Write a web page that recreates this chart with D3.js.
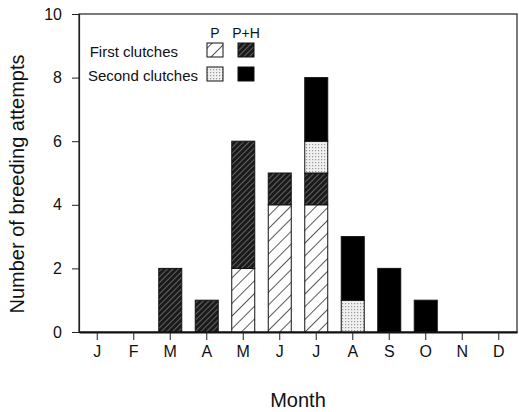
<!DOCTYPE html>
<html><head><meta charset="utf-8">
<script src="https://cdn.jsdelivr.net/npm/d3@7"></script>
<style>
html,body{margin:0;padding:0;background:#fff;}
svg{display:block;font-family:"Liberation Sans",Arial,Helvetica,sans-serif;}
</style>
</head><body>
<svg id="chart" width="519" height="412"></svg>
<script>
const months = ["J","F","M","A","M","J","J","A","S","O","N","D"];
const pFirst   = [0,0,0,0,2,4,4,0,0,0,0,0];
const phFirst  = [0,0,2,1,4,1,1,0,0,0,0,0];
const pSecond  = [0,0,0,0,0,0,1,1,0,0,0,0];
const phSecond = [0,0,0,0,0,0,2,2,2,1,0,0];
const yTicks = [0,2,4,6,8,10];
const seriesKeys = ["pFirst","phFirst","pSecond","phSecond"];
const legendRows = ["First clutches","Second clutches"];
const legendCols = ["P","P+H"];

const svg = d3.select("#chart");
const defs = svg.append("defs");

const p1 = defs.append("pattern").attr("id","pat-pFirst").attr("patternUnits","userSpaceOnUse")
  .attr("width",9).attr("height",9).attr("patternTransform","rotate(45)");
p1.append("rect").attr("width",9).attr("height",9).attr("fill","#fff");
p1.append("line").attr("x1",0).attr("y1",0).attr("x2",0).attr("y2",9).attr("stroke","#111").attr("stroke-width",1.4);

const p2 = defs.append("pattern").attr("id","pat-phFirst").attr("patternUnits","userSpaceOnUse")
  .attr("width",4).attr("height",4).attr("patternTransform","rotate(45)");
p2.append("rect").attr("width",4).attr("height",4).attr("fill","#1a1a1a");
p2.append("line").attr("x1",0).attr("y1",0).attr("x2",0).attr("y2",4).attr("stroke","#bbb").attr("stroke-width",0.9);

const p3 = defs.append("pattern").attr("id","pat-pSecond").attr("patternUnits","userSpaceOnUse")
  .attr("width",3).attr("height",3);
p3.append("rect").attr("width",3).attr("height",3).attr("fill","#f0f0f0");
p3.append("rect").attr("width",1.2).attr("height",1.2).attr("fill","#999");

const fills = {
  pFirst: "url(#pat-pFirst)",
  phFirst: "url(#pat-phFirst)",
  pSecond: "url(#pat-pSecond)",
  phSecond: "#000"
};

const m = {left:79, right:517, top:14, bottom:332};
const x = d3.scaleBand().domain(d3.range(months.length)).range([m.left,m.right]).paddingInner(0.37).paddingOuter(0.185);
const y = d3.scaleLinear().domain([0,10]).range([m.bottom,m.top]);

const table = months.map((mo,i)=>({i, pFirst:pFirst[i], phFirst:phFirst[i], pSecond:pSecond[i], phSecond:phSecond[i]}));
const stack = d3.stack().keys(seriesKeys)(table);

svg.append("rect").attr("x",m.left).attr("y",m.top).attr("width",m.right-m.left).attr("height",m.bottom-m.top)
  .attr("fill","none").attr("stroke","#222").attr("stroke-width",1.2);

stack.forEach(s=>{
  svg.append("g").selectAll("rect").data(s.filter(d=>d[1]-d[0]>0)).join("rect")
    .attr("x",d=>x(d.data.i)).attr("width",x.bandwidth())
    .attr("y",d=>y(d[1])).attr("height",d=>y(d[0])-y(d[1]))
    .attr("fill",fills[s.key]).attr("stroke","#111").attr("stroke-width",1);
});

const yAxis = d3.axisLeft(y).tickValues(yTicks).tickSize(7).tickPadding(10).tickFormat(d3.format("d"));
const gy = svg.append("g").attr("transform",`translate(${m.left},0)`).call(yAxis);
gy.select(".domain").attr("stroke","#222").attr("stroke-width",1.2);
gy.selectAll(".tick line").attr("stroke","#222");
gy.selectAll("text").attr("font-size",16).attr("fill","#111").attr("font-family","Liberation Sans, Arial, sans-serif");

const xAxis = d3.axisBottom(x).tickFormat(i=>months[i]).tickSize(8).tickPadding(6).tickSizeOuter(0);
const gx = svg.append("g").attr("transform",`translate(0,${m.bottom})`).call(xAxis);
gx.select(".domain").attr("stroke","#111").attr("stroke-width",2.2);
gx.selectAll(".tick line").attr("stroke","#222");
gx.selectAll("text").attr("font-size",16).attr("fill","#111").attr("font-family","Liberation Sans, Arial, sans-serif");

svg.append("text").attr("x",(m.left+m.right)/2).attr("y",407).attr("text-anchor","middle")
  .attr("font-size",20).attr("fill","#111").text("Month");
svg.append("text").attr("transform",`translate(24,184) rotate(-90)`).attr("text-anchor","middle")
  .attr("font-size",20).attr("fill","#111").text("Number of breeding attempts");

const colX = [215, 246];
const rowY = [50, 74];
const lg = svg.append("g");
legendCols.forEach((c,j)=>lg.append("text").attr("x",colX[j]).attr("y",38).attr("text-anchor","middle")
  .attr("font-size",14).attr("fill","#111").text(c));
legendRows.forEach((r,i)=>lg.append("text").attr("x",i===0?178:198).attr("y",rowY[i]+7).attr("text-anchor","end")
  .attr("font-size",15).attr("fill","#111").text(r));
const legendKeys = [["pFirst","phFirst"],["pSecond","phSecond"]];
legendKeys.forEach((row,i)=>row.forEach((k,j)=>{
  lg.append("rect").attr("x",colX[j]-8).attr("y",rowY[i]-7).attr("width",16).attr("height",14)
    .attr("fill",fills[k]).attr("stroke","#111").attr("stroke-width",1);
}));
</script>
</body></html>
